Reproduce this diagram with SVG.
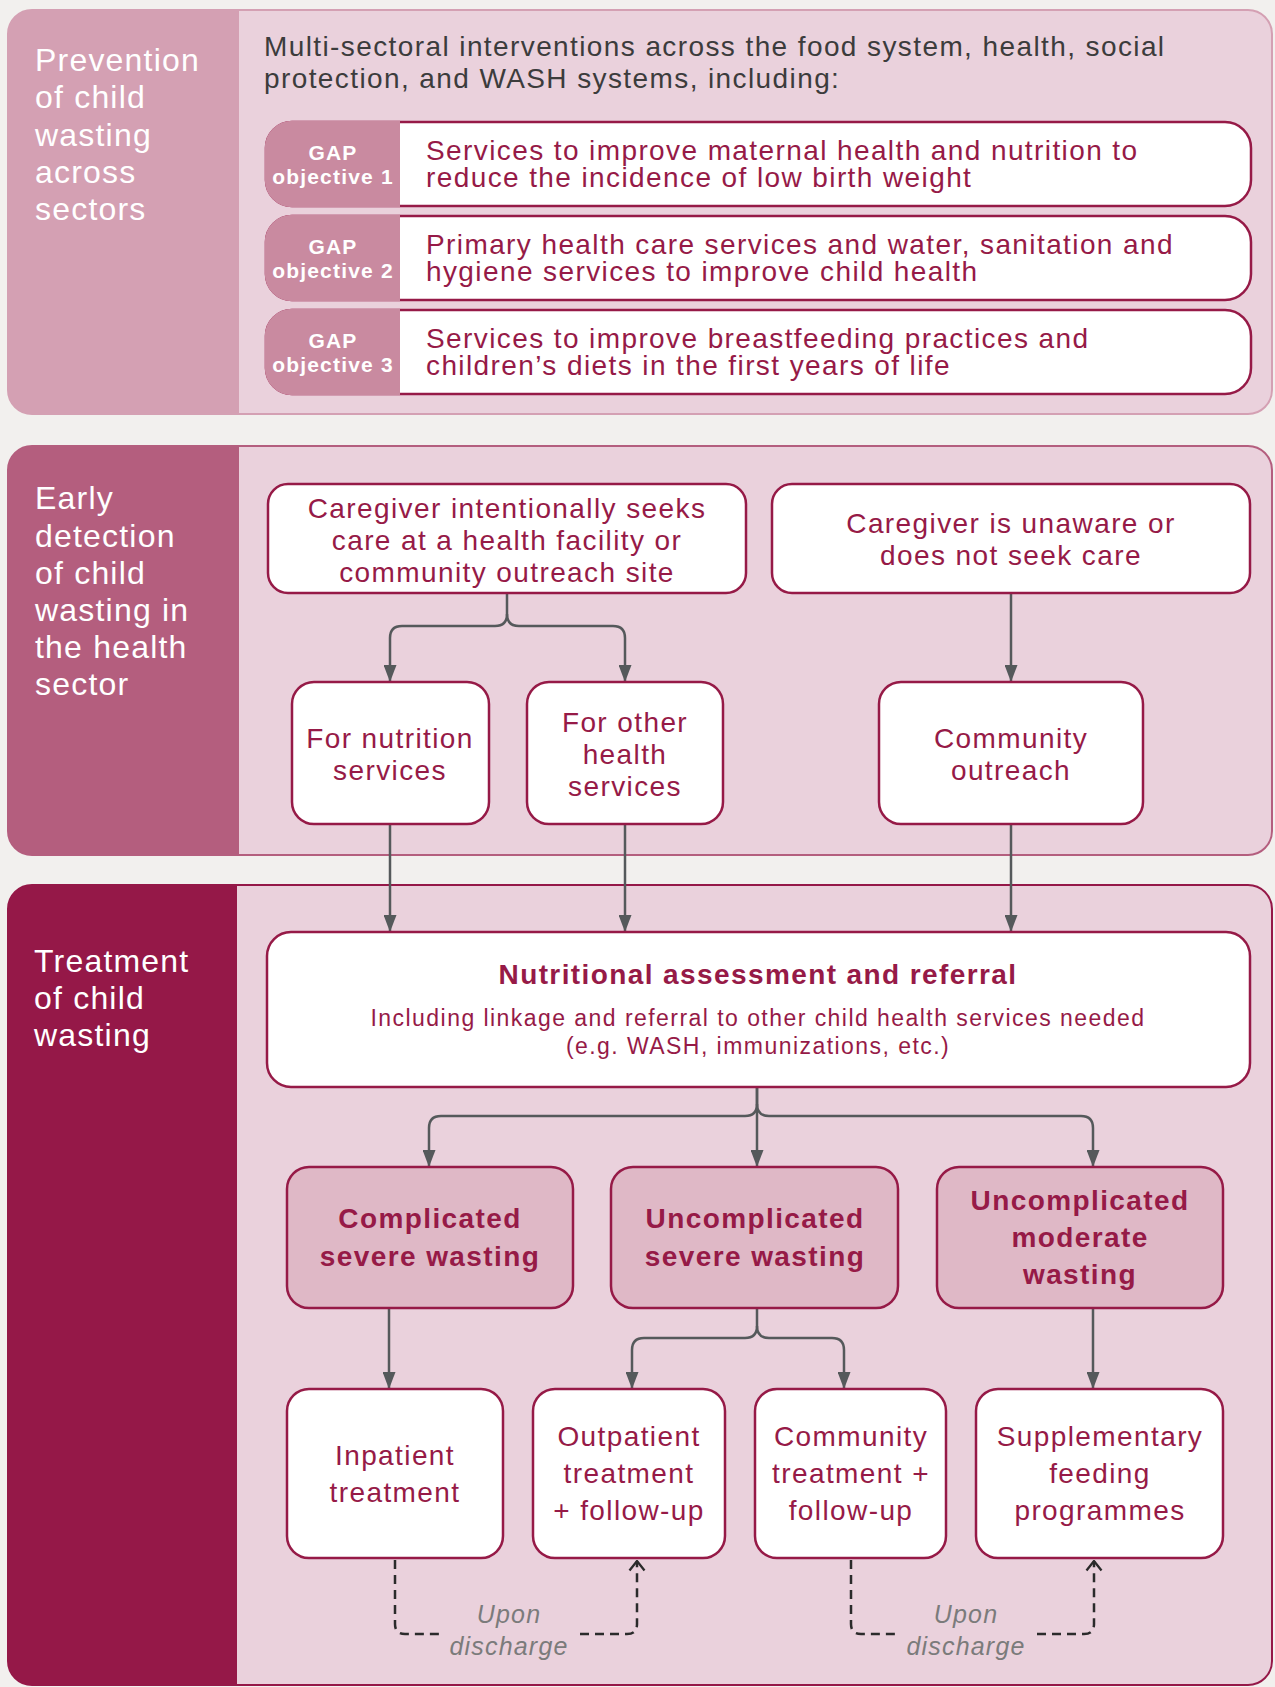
<svg xmlns="http://www.w3.org/2000/svg" width="1275" height="1687" viewBox="0 0 1275 1687">
<style>
text{font-family:"Liberation Sans",Arial,Helvetica,sans-serif}
.ptitle{fill:#ffffff;font-size:32px;letter-spacing:1.2px}
.intro{fill:#3c3c3c;font-size:28px;letter-spacing:1.4px}
.txt{fill:#961a47;font-size:28px;letter-spacing:1.4px}
.c{text-anchor:middle}
.b{font-weight:bold}
.gap{fill:#ffffff;font-size:21px;letter-spacing:1.2px;font-weight:bold;text-anchor:middle}
.sub{fill:#961a47;font-size:23px;letter-spacing:1.45px;text-anchor:middle}
.note{fill:#7b7b7b;font-size:25px;letter-spacing:1.2px;font-style:italic;text-anchor:middle}
.node{fill:#ffffff;stroke:#961a47;stroke-width:2.5}
.sev{fill:#dfb8c6;stroke:#961a47;stroke-width:2.5}
.lab{fill:#c98aa0}
.conn{fill:none;stroke:#55595b;stroke-width:2.5}
.dash{fill:none;stroke:#2b2b2b;stroke-width:2.5;stroke-dasharray:9 6}
</style>
<defs>
<marker id="arr" viewBox="0 0 17 13" refX="16" refY="6.5" markerWidth="17" markerHeight="13" markerUnits="userSpaceOnUse" orient="auto">
<path d="M0,0 L17,6.5 L0,13 Z" fill="#55595b"/>
</marker>
<marker id="open" viewBox="0 0 12 18" refX="10.5" refY="9" markerWidth="12" markerHeight="18" markerUnits="userSpaceOnUse" orient="auto">
<path d="M1,1.5 L10.5,9 L1,16.5" fill="none" stroke="#2b2b2b" stroke-width="2.3"/>
</marker>
</defs>
<rect x="0" y="0" width="1275" height="1687" fill="#f2f0ee"/>

<!-- Panel 1 -->
<g id="panel-prevention">
<rect x="8" y="10" width="1264" height="404" rx="24" fill="#ead1dc" stroke="#d4a0b3" stroke-width="2"/>
<path d="M8,34 A24,24 0 0 1 32,10 H239 V414 H32 A24,24 0 0 1 8,390 Z" fill="#d4a0b3"/>
<text class="ptitle" x="35" y="71">Prevention</text>
<text class="ptitle" x="35" y="108">of child</text>
<text class="ptitle" x="35" y="146">wasting</text>
<text class="ptitle" x="35" y="183">across</text>
<text class="ptitle" x="35" y="220">sectors</text>
<text class="intro" x="264" y="56">Multi-sectoral interventions across the food system, health, social</text>
<text class="intro" x="264" y="88">protection, and WASH systems, including:</text>
</g>

<g id="gap1">
<rect class="node" x="266" y="122" width="985" height="84" rx="26"/>
<path class="lab" d="M400,120.75 V207.25 H292 A27.25,27.25 0 0 1 264.75,180 V148 A27.25,27.25 0 0 1 292,120.75 Z"/>
<text class="gap" x="333" y="160">GAP</text>
<text class="gap" x="333" y="184">objective 1</text>
<text class="txt" x="426" y="160">Services to improve maternal health and nutrition to</text>
<text class="txt" x="426" y="187">reduce the incidence of low birth weight</text>
</g>
<g id="gap2">
<rect class="node" x="266" y="216" width="985" height="84" rx="26"/>
<path class="lab" d="M400,214.75 V301.25 H292 A27.25,27.25 0 0 1 264.75,274 V242 A27.25,27.25 0 0 1 292,214.75 Z"/>
<text class="gap" x="333" y="254">GAP</text>
<text class="gap" x="333" y="278">objective 2</text>
<text class="txt" x="426" y="254">Primary health care services and water, sanitation and</text>
<text class="txt" x="426" y="281">hygiene services to improve child health</text>
</g>
<g id="gap3">
<rect class="node" x="266" y="310" width="985" height="84" rx="26"/>
<path class="lab" d="M400,308.75 V395.25 H292 A27.25,27.25 0 0 1 264.75,368 V336 A27.25,27.25 0 0 1 292,308.75 Z"/>
<text class="gap" x="333" y="348">GAP</text>
<text class="gap" x="333" y="372">objective 3</text>
<text class="txt" x="426" y="348">Services to improve breastfeeding practices and</text>
<text class="txt" x="426" y="375">children’s diets in the first years of life</text>
</g>

<!-- Panel 2 -->
<g id="panel-detection">
<rect x="8" y="446" width="1264" height="409" rx="24" fill="#ead1dc" stroke="#b45e7e" stroke-width="2"/>
<path d="M8,470 A24,24 0 0 1 32,446 H239 V855 H32 A24,24 0 0 1 8,831 Z" fill="#b45e7e"/>
<text class="ptitle" x="35" y="509">Early</text>
<text class="ptitle" x="35" y="547">detection</text>
<text class="ptitle" x="35" y="584">of child</text>
<text class="ptitle" x="35" y="621">wasting in</text>
<text class="ptitle" x="35" y="658">the health</text>
<text class="ptitle" x="35" y="695">sector</text>
</g>

<!-- Panel 3 -->
<g id="panel-treatment">
<rect x="8" y="885" width="1264" height="800" rx="24" fill="#ead1dc" stroke="#951848" stroke-width="2"/>
<path d="M8,909 A24,24 0 0 1 32,885 H237 V1685 H32 A24,24 0 0 1 8,1661 Z" fill="#951848"/>
<text class="ptitle" x="34" y="972">Treatment</text>
<text class="ptitle" x="34" y="1009">of child</text>
<text class="ptitle" x="34" y="1046">wasting</text>
</g>

<!-- Connectors -->
<g id="connectors">
<path class="conn" d="M507,593 V614 Q507,626 495,626 H402 Q390,626 390,638 V681" marker-end="url(#arr)"/>
<path class="conn" d="M507,614 Q507,626 519,626 H613 Q625,626 625,638 V681" marker-end="url(#arr)"/>
<path class="conn" d="M1011,593 V681" marker-end="url(#arr)"/>
<path class="conn" d="M390,824 V931" marker-end="url(#arr)"/>
<path class="conn" d="M625,824 V931" marker-end="url(#arr)"/>
<path class="conn" d="M1011,824 V931" marker-end="url(#arr)"/>
<path class="conn" d="M757,1087 V1104 Q757,1116 745,1116 H441 Q429,1116 429,1128 V1166" marker-end="url(#arr)"/>
<path class="conn" d="M757,1087 V1166" marker-end="url(#arr)"/>
<path class="conn" d="M757,1104 Q757,1116 769,1116 H1081 Q1093,1116 1093,1128 V1166" marker-end="url(#arr)"/>
<path class="conn" d="M389,1308 V1388" marker-end="url(#arr)"/>
<path class="conn" d="M757,1308 V1326 Q757,1338 745,1338 H644 Q632,1338 632,1350 V1388" marker-end="url(#arr)"/>
<path class="conn" d="M757,1326 Q757,1338 769,1338 H832 Q844,1338 844,1350 V1388" marker-end="url(#arr)"/>
<path class="conn" d="M1093,1308 V1388" marker-end="url(#arr)"/>
<path class="dash" d="M395,1560 V1624 Q395,1634 405,1634 H440"/>
<path class="dash" d="M580,1634 H627 Q637,1634 637,1624 V1561" marker-end="url(#open)"/>
<path class="dash" d="M851,1560 V1624 Q851,1634 861,1634 H896"/>
<path class="dash" d="M1037,1634 H1084 Q1094,1634 1094,1624 V1561" marker-end="url(#open)"/>
<text class="note" x="509" y="1623">Upon</text>
<text class="note" x="509" y="1655">discharge</text>
<text class="note" x="966" y="1623">Upon</text>
<text class="note" x="966" y="1655">discharge</text>
</g>

<!-- Detection nodes -->
<g id="seek-care">
<rect class="node" x="268" y="484" width="478" height="109" rx="20"/>
<text class="txt c" x="507" y="518">Caregiver intentionally seeks</text>
<text class="txt c" x="507" y="550">care at a health facility or</text>
<text class="txt c" x="507" y="582">community outreach site</text>
</g>
<g id="unaware">
<rect class="node" x="772" y="484" width="478" height="109" rx="20"/>
<text class="txt c" x="1011" y="533">Caregiver is unaware or</text>
<text class="txt c" x="1011" y="565">does not seek care</text>
</g>
<g id="nutrition-services">
<rect class="node" x="292" y="682" width="197" height="142" rx="22"/>
<text class="txt c" x="390" y="748">For nutrition</text>
<text class="txt c" x="390" y="780">services</text>
</g>
<g id="other-health">
<rect class="node" x="527" y="682" width="196" height="142" rx="22"/>
<text class="txt c" x="625" y="732">For other</text>
<text class="txt c" x="625" y="764">health</text>
<text class="txt c" x="625" y="796">services</text>
</g>
<g id="community-outreach">
<rect class="node" x="879" y="682" width="264" height="142" rx="22"/>
<text class="txt c" x="1011" y="748">Community</text>
<text class="txt c" x="1011" y="780">outreach</text>
</g>

<!-- Treatment nodes -->
<g id="assessment">
<rect class="node" x="267" y="932" width="983" height="155" rx="24"/>
<text class="txt c b" x="758" y="984">Nutritional assessment and referral</text>
<text class="sub" x="758" y="1026">Including linkage and referral to other child health services needed</text>
<text class="sub" x="758" y="1054">(e.g. WASH, immunizations, etc.)</text>
</g>
<g id="complicated-severe">
<rect class="sev" x="287" y="1167" width="286" height="141" rx="22"/>
<text class="txt c b" x="430" y="1228">Complicated</text>
<text class="txt c b" x="430" y="1266">severe wasting</text>
</g>
<g id="uncomplicated-severe">
<rect class="sev" x="611" y="1167" width="287" height="141" rx="22"/>
<text class="txt c b" x="755" y="1228">Uncomplicated</text>
<text class="txt c b" x="755" y="1266">severe wasting</text>
</g>
<g id="uncomplicated-moderate">
<rect class="sev" x="937" y="1167" width="286" height="141" rx="22"/>
<text class="txt c b" x="1080" y="1210">Uncomplicated</text>
<text class="txt c b" x="1080" y="1247">moderate</text>
<text class="txt c b" x="1080" y="1284">wasting</text>
</g>
<g id="inpatient">
<rect class="node" x="287" y="1389" width="216" height="169" rx="22"/>
<text class="txt c" x="395" y="1465">Inpatient</text>
<text class="txt c" x="395" y="1502">treatment</text>
</g>
<g id="outpatient">
<rect class="node" x="533" y="1389" width="192" height="169" rx="22"/>
<text class="txt c" x="629" y="1446">Outpatient</text>
<text class="txt c" x="629" y="1483">treatment</text>
<text class="txt c" x="629" y="1520">+ follow-up</text>
</g>
<g id="community-treatment">
<rect class="node" x="755" y="1389" width="191" height="169" rx="22"/>
<text class="txt c" x="851" y="1446">Community</text>
<text class="txt c" x="851" y="1483">treatment +</text>
<text class="txt c" x="851" y="1520">follow-up</text>
</g>
<g id="supplementary">
<rect class="node" x="976" y="1389" width="247" height="169" rx="22"/>
<text class="txt c" x="1100" y="1446">Supplementary</text>
<text class="txt c" x="1100" y="1483">feeding</text>
<text class="txt c" x="1100" y="1520">programmes</text>
</g>
</svg>
